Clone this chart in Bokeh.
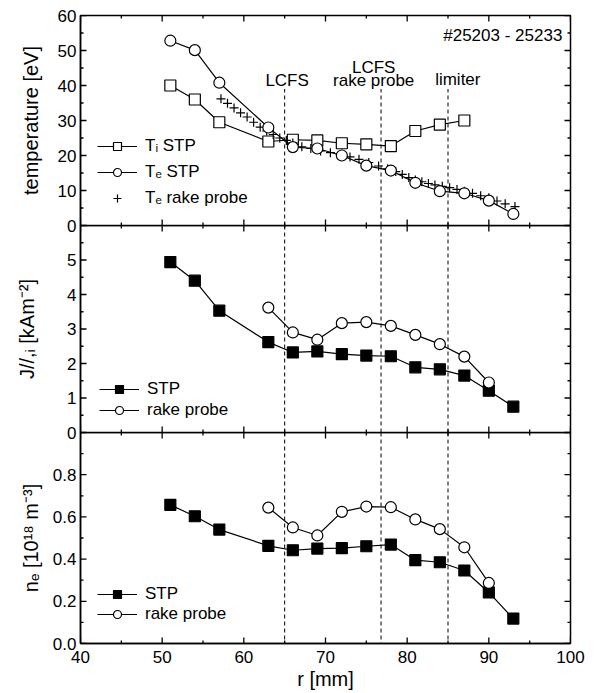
import math
from bokeh.plotting import figure
from bokeh.models import Range1d, FixedTicker, Legend, LegendItem, Label, Span
from bokeh.layouts import column
from bokeh.embed import file_html
from bokeh.resources import INLINE

# ---------------- data ----------------
r_ti_stp = [51, 54, 57, 63, 66, 69, 72, 75, 78, 81, 84, 87]
ti_stp = [40.0, 36.0, 29.5, 24.0, 24.5, 24.3, 23.5, 23.2, 22.7, 27.0, 28.8, 30.0]

r_te_stp = [51, 54, 57, 63, 66, 69, 72, 75, 78, 81, 84, 87, 90, 93]
te_stp = [52.8, 50.1, 40.8, 28.0, 22.4, 22.0, 20.0, 17.1, 15.7, 12.2, 9.8, 9.2, 7.1, 3.3]

r_te_rake = [57.2, 58.0, 58.8, 59.6, 60.4, 61.2, 62.0, 62.8, 63.6, 64.4, 65.2, 66.0,
             67.1, 68.2, 69.4, 70.6, 71.8, 73.0, 74.1, 75.3, 76.5, 77.6, 78.6, 79.4,
             80.2, 81.0, 81.8, 82.6, 83.4, 84.3, 85.2, 86.1, 87.0, 88.0, 89.0, 90.0,
             91.0, 92.0, 93.2]
te_rake = [36.2, 34.9, 33.6, 32.2, 31.0, 29.5, 28.1, 27.0, 26.0, 25.0, 24.3, 23.6,
           22.5, 22.0, 21.3, 20.8, 20.3, 19.6, 18.9, 18.0, 17.0, 16.2, 15.4, 14.6,
           13.7, 13.0, 12.5, 12.0, 11.6, 11.2, 10.8, 10.3, 9.8, 9.2, 8.5, 7.9,
           7.0, 6.2, 5.4]

r_stp = [51, 54, 57, 63, 66, 69, 72, 75, 78, 81, 84, 87, 90, 93]
j_stp = [4.94, 4.40, 3.53, 2.62, 2.32, 2.35, 2.27, 2.23, 2.21, 1.89, 1.83, 1.65, 1.21, 0.75]
ne_stp = [0.657, 0.603, 0.540, 0.463, 0.442, 0.450, 0.452, 0.461, 0.469, 0.395,
          0.385, 0.346, 0.242, 0.118]

r_rake = [63, 66, 69, 72, 75, 78, 81, 84, 87, 90]
j_rake = [3.62, 2.90, 2.69, 3.17, 3.20, 3.09, 2.83, 2.56, 2.20, 1.45]
ne_rake = [0.644, 0.550, 0.512, 0.624, 0.649, 0.646, 0.588, 0.542, 0.456, 0.287]

marker_lines = [65.0, 76.8, 85.0]      # LCFS, LCFS rake probe, limiter
marker_top = 39.0                       # dashed lines in top panel end here

x_lim = (40, 100)
x_ticks = [40, 50, 60, 70, 80, 90, 100]
x_minor = [45, 55, 65, 75, 85, 95]
t_lim = (0, 60)
t_ticks = [0, 10, 20, 30, 40, 50, 60]
t_minor = [5, 15, 25, 35, 45, 55]
j_lim = (0, 6)
j_ticks = [0, 1, 2, 3, 4, 5]
j_minor = [0.5, 1.5, 2.5, 3.5, 4.5, 5.5]
j_edge_ticks = [6]
n_lim = (0, 1.0)
n_ticks = [0.0, 0.2, 0.4, 0.6, 0.8]
n_minor = [0.1, 0.3, 0.5, 0.7, 0.9]
n_edge_ticks = [1.0]
n_labels = {0.0: "0.0", 0.2: "0.2", 0.4: "0.4", 0.6: "0.6", 0.8: "0.8"}

FONT = "Liberation Sans"
TICK_FS = "17px"
LAB_FS = "20px"
TXT_FS = "17px"
OVERLAP = 10
FRAME_W = 490
MAJOR_LEN = 6   # px
MINOR_LEN = 3   # px


def style_axis(ax):
    ax.major_tick_in = 0
    ax.major_tick_out = 0
    ax.minor_tick_in = 0
    ax.minor_tick_out = 0
    ax.axis_line_color = "black"
    ax.axis_line_width = 1.5
    ax.major_label_text_font = FONT
    ax.major_label_text_color = "black"
    ax.major_label_text_font_size = TICK_FS
    ax.major_label_standoff = 4
    ax.axis_label_text_font = FONT
    ax.axis_label_text_font_style = "normal"
    ax.axis_label_text_font_size = LAB_FS
    ax.axis_label_text_color = "black"


def add_ticks(p, ylim, frame_h, yt_major, yt_minor):
    """Inward tick marks: dash markers centred half a tick length inside each edge."""
    dx = (x_lim[1] - x_lim[0]) / FRAME_W
    dy = (ylim[1] - ylim[0]) / frame_h
    for ticks, length in [(yt_major, MAJOR_LEN), (yt_minor, MINOR_LEN)]:
        n = len(ticks)
        for xe in (x_lim[0] + 0.5 * length * dx, x_lim[1] - 0.5 * length * dx):
            p.scatter([xe] * n, list(ticks), marker="dash", size=length,
                      line_color="black", line_width=1.3)
    for ticks, length in [(x_ticks, MAJOR_LEN), (x_minor, MINOR_LEN)]:
        n = len(ticks)
        for ye in (ylim[0] + 0.5 * length * dy, ylim[1] - 0.5 * length * dy):
            p.scatter(list(ticks), [ye] * n, marker="dash", size=length,
                      angle=math.pi / 2, line_color="black", line_width=1.3)


def make_panel(frame_h, ylim, yt, ym, ylabel, lab_standoff, show_x,
               top_border, bottom_border, overrides=None):
    p = figure(frame_width=FRAME_W, frame_height=frame_h,
               x_range=Range1d(*x_lim), y_range=Range1d(*ylim),
               output_backend="svg", toolbar_location=None,
               min_border_left=80, min_border_right=18,
               min_border_top=top_border, min_border_bottom=bottom_border)
    p.xgrid.visible = False
    p.ygrid.visible = False
    p.outline_line_color = "black"
    p.outline_line_width = 1.5
    p.background_fill_alpha = 0
    p.border_fill_alpha = 0

    p.xaxis.ticker = FixedTicker(ticks=list(x_ticks))
    style_axis(p.xaxis[0])
    if show_x:
        p.xaxis.axis_label = "r [mm]"
        p.xaxis.axis_label_standoff = 2
        p.xaxis.major_label_standoff = 7
    else:
        p.xaxis.visible = False

    p.yaxis.ticker = FixedTicker(ticks=list(yt))
    style_axis(p.yaxis[0])
    p.yaxis.axis_label = ylabel
    p.yaxis.axis_label_standoff = lab_standoff
    if overrides:
        p.yaxis.major_label_overrides = overrides
    return p


def style_legend(leg, x, y, spacing):
    leg.location = (x, y)
    leg.border_line_color = None
    leg.background_fill_alpha = 0
    leg.padding = 0
    leg.margin = 0
    leg.spacing = spacing
    leg.glyph_width = 40
    leg.glyph_height = 20
    leg.label_height = 20
    leg.label_standoff = 8
    leg.label_text_font = FONT
    leg.label_text_font_size = TXT_FS
    leg.label_text_color = "black"


# ---------------- top panel: temperature ----------------
p1 = make_panel(210, t_lim, t_ticks, t_minor, "temperature [eV]", 13,
                False, 15, OVERLAP)
add_ticks(p1, t_lim, 210, t_ticks, t_minor)

p1.segment(x0=marker_lines, y0=[t_lim[0]] * len(marker_lines), x1=marker_lines,
           y1=[marker_top] * len(marker_lines), line_color="black",
           line_width=1, line_dash="4 3")

l_ti = p1.line(r_ti_stp, ti_stp, line_color="black", line_width=1.2)
m_ti = p1.scatter(r_ti_stp, ti_stp, marker="square", size=11, fill_color="white",
                  line_color="black", line_width=1.2)
l_te = p1.line(r_te_stp, te_stp, line_color="black", line_width=1.2)
m_rk = p1.scatter(r_te_rake, te_rake, marker="cross", size=9, line_color="black",
                  line_width=1.2)
m_te = p1.scatter(r_te_stp, te_stp, marker="circle", size=11, fill_color="white",
                  line_color="black", line_width=1.2)

leg1 = Legend(items=[LegendItem(label="Tᵢ STP", renderers=[l_ti, m_ti]),
                     LegendItem(label="Tₑ STP", renderers=[l_te, m_te]),
                     LegendItem(label="Tₑ rake probe", renderers=[m_rk])])
style_legend(leg1, 17, 17, 6)
p1.add_layout(leg1)

for txt, xx, yy, al in [("#25203 - 25233", 99.0, 54.3, "right"),
                        ("LCFS", 65.3, 41.4, "center"),
                        ("LCFS", 75.9, 45.1, "center"),
                        ("rake probe", 75.9, 41.4, "center"),
                        ("limiter", 86.2, 41.7, "center")]:
    p1.add_layout(Label(x=xx, y=yy, text=txt, text_align=al, text_baseline="middle",
                        text_font=FONT, text_font_size=TXT_FS, text_color="black"))

# ---------------- middle panel: J ----------------
p2 = make_panel(207, j_lim, j_ticks, j_minor, "J//,ᵢ [kAm⁻²]", 26,
                False, 0, OVERLAP)
p2.margin = (-OVERLAP, 0, 0, 0)
add_ticks(p2, j_lim, 207, j_ticks + j_edge_ticks, j_minor)
for xv in marker_lines:
    p2.add_layout(Span(location=xv, dimension="height", line_color="black",
                       line_width=1, line_dash="4 3"))
l_js = p2.line(r_stp, j_stp, line_color="black", line_width=1.2)
m_js = p2.scatter(r_stp, j_stp, marker="square", size=11, fill_color="black",
                  line_color="black", line_width=1.2)
l_jr = p2.line(r_rake, j_rake, line_color="black", line_width=1.2)
m_jr = p2.scatter(r_rake, j_rake, marker="circle", size=11, fill_color="white",
                  line_color="black", line_width=1.2)
leg2 = Legend(items=[LegendItem(label="STP", renderers=[l_js, m_js]),
                     LegendItem(label="rake probe", renderers=[l_jr, m_jr])])
style_legend(leg2, 19, 12, 1)
p2.add_layout(leg2)

# ---------------- bottom panel: n_e ----------------
p3 = make_panel(211, n_lim, n_ticks, n_minor, "nₑ [10¹⁸ m⁻³]", 8,
                True, 0, 46, overrides=n_labels)
p3.margin = (-OVERLAP, 0, 0, 0)
add_ticks(p3, n_lim, 211, n_ticks + n_edge_ticks, n_minor)
for xv in marker_lines:
    p3.add_layout(Span(location=xv, dimension="height", line_color="black",
                       line_width=1, line_dash="4 3"))
l_ns = p3.line(r_stp, ne_stp, line_color="black", line_width=1.2)
m_ns = p3.scatter(r_stp, ne_stp, marker="square", size=11, fill_color="black",
                  line_color="black", line_width=1.2)
l_nr = p3.line(r_rake, ne_rake, line_color="black", line_width=1.2)
m_nr = p3.scatter(r_rake, ne_rake, marker="circle", size=11, fill_color="white",
                  line_color="black", line_width=1.2)
leg3 = Legend(items=[LegendItem(label="STP", renderers=[l_ns, m_ns]),
                     LegendItem(label="rake probe", renderers=[l_nr, m_nr])])
style_legend(leg3, 17, 19, 0)
p3.add_layout(leg3)

layout = column(p1, p2, p3, spacing=0)
open("out.html", "w").write(file_html(layout, INLINE))
